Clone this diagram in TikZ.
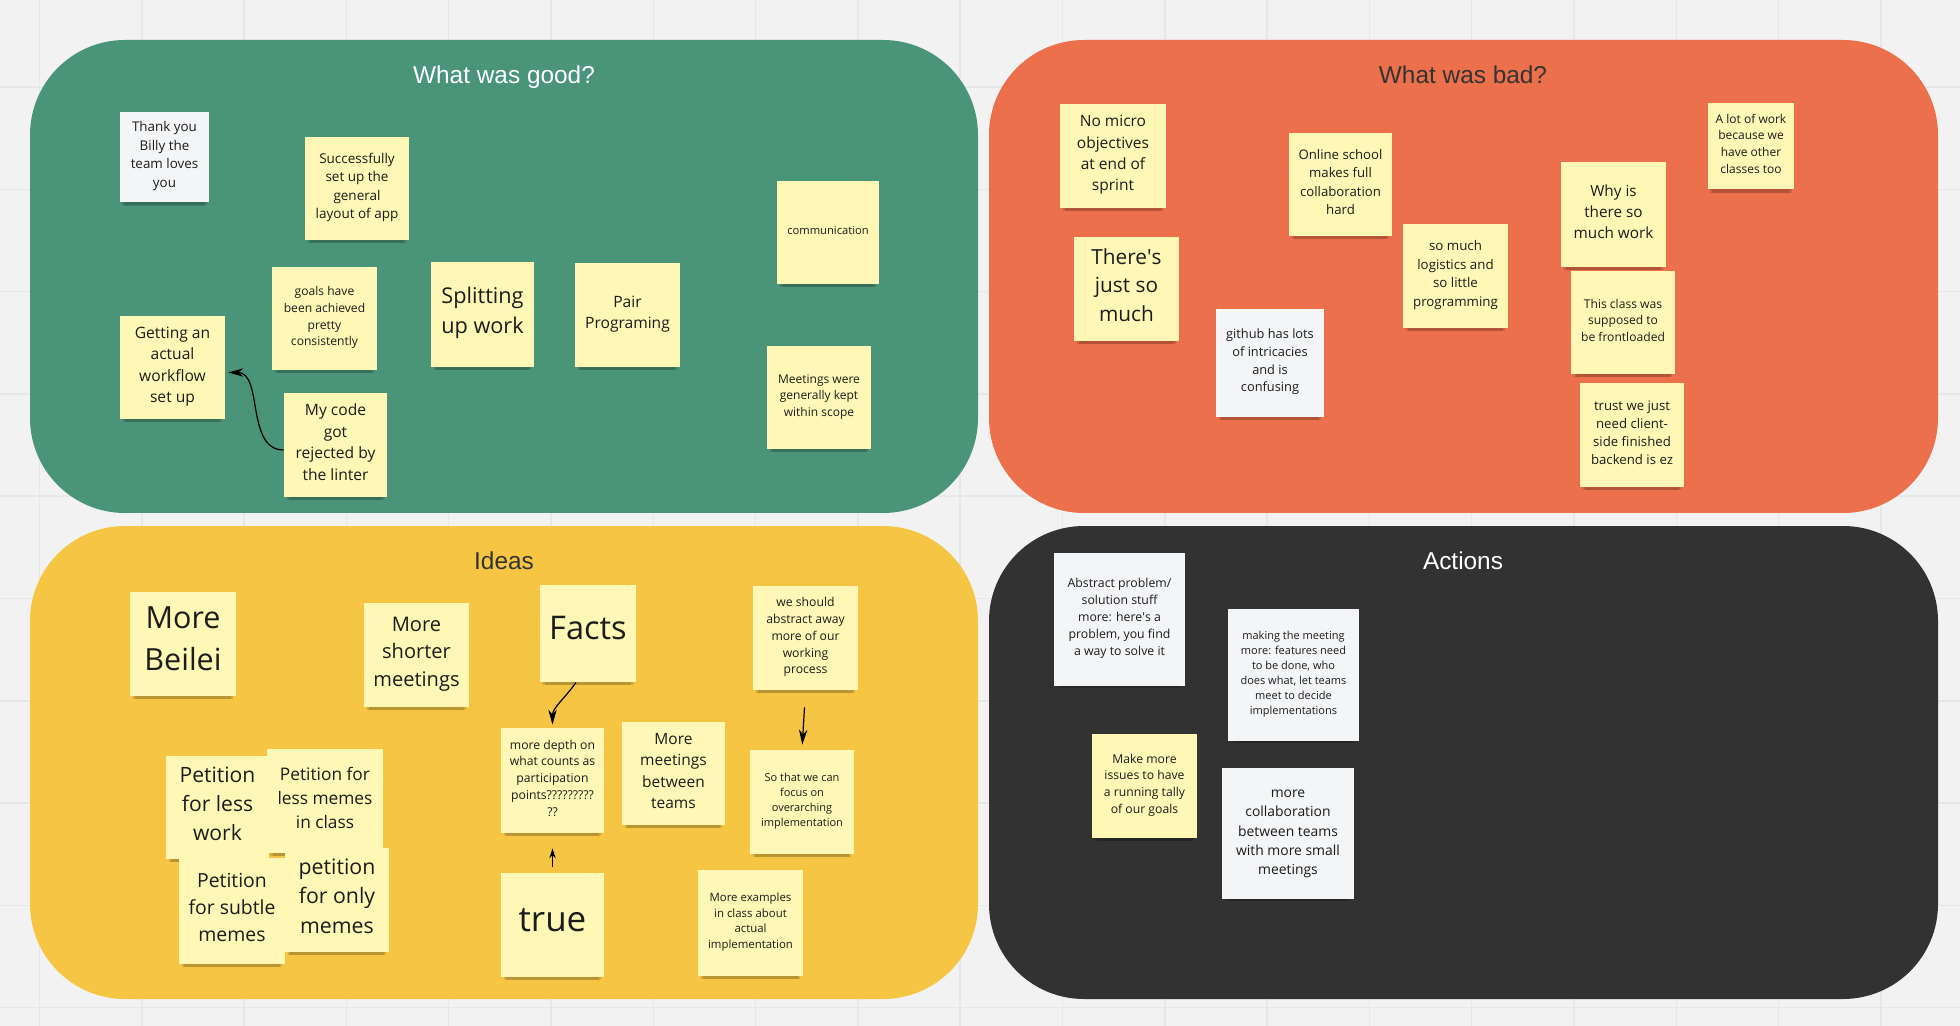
\documentclass[tikz,border=0pt]{standalone}
\usepackage{fontspec}
\setmainfont{Open Sans}
\newfontfamily\headfont{Liberation Sans}
\usetikzlibrary{shadows,arrows.meta}

\definecolor{board}{HTML}{F2F2F2}
\definecolor{gridline}{HTML}{E7E7E7}
\definecolor{goodgreen}{HTML}{4A9479}
\definecolor{badorange}{HTML}{EC704B}
\definecolor{ideayellow}{HTML}{F5C543}
\definecolor{actiondark}{HTML}{323232}
\definecolor{stickyyellow}{HTML}{FEF7B5}
\definecolor{stickywhite}{HTML}{F4F5F7}
\definecolor{ink}{HTML}{1C1C1C}
\definecolor{headink}{HTML}{333333}

% centred lines of a sticky note, set a little above the note's middle
\newcommand\stk[1]{\raisebox{0pt}[\height][\dimexpr\depth+0.18em\relax]{%
  \begin{tabular}{@{}c@{}}#1\end{tabular}}}

\tikzset{
  panel/.style={rounded corners=47.5pt},
  heading/.style={font=\headfont\fontsize{12.2pt}{14pt}\selectfont, inner sep=0pt,
    text height=0.72em, text depth=0pt},
  sz/.code={\pgfmathsetmacro\notesize{#1/2}\pgfmathsetmacro\noteskip{#1*0.69}%
    \edef\notefont{\noexpand\fontsize{\notesize pt}{\noteskip pt}\noexpand\selectfont}%
    \pgfkeysalso{font/.expand once=\notefont}},
  wh/.style 2 args={minimum width=#1*0.5pt, minimum height=#2*0.5pt},
  sticky/.style={inner sep=0pt, text=ink,
    general shadow={shadow scale=0.95, shadow yshift=-3pt, fill=black, opacity=0.13},
    general shadow={shadow scale=0.9, shadow yshift=-4.5pt, fill=black, opacity=0.13}},
  yel/.style={sticky, fill=stickyyellow},
  wht/.style={sticky, fill=stickywhite},
  link/.style={draw=black, line width=0.6pt, -{Stealth[length=7.5pt,width=4.2pt]}},
  smalllink/.style={draw=black, line width=0.6pt, -{Stealth[length=5pt,width=3.2pt]}},
}

\begin{document}
\begin{tikzpicture}[x=0.5pt, y=0.5pt]
  % board with its faint grid
  \fill[board] (0,0) rectangle (1960,-1026);
  \useasboundingbox (0,0) rectangle (1960,-1026);
  \begin{scope}
    \clip (0,0) rectangle (1960,-1026);
    \foreach \gx in {0,...,19}
      \draw[gridline, line width=0.75pt] (39.5+\gx*102.3,0) -- ++(0,-1026);
    \foreach \gy in {0,...,10}
      \draw[gridline, line width=0.75pt] (0,15.3-\gy*102.3) -- ++(1960,0);
  \end{scope}

  % the four retro panels
  \fill[panel, goodgreen]  (30,-40)  rectangle (978,-513);
  \fill[panel, badorange]  (989,-40) rectangle (1938,-513);
  \fill[panel, ideayellow] (30,-526) rectangle (978,-999);
  \fill[panel, actiondark] (989,-526) rectangle (1938,-999);

  \node[heading, text=white]   (tgood)    at (504,-76)    {What was good?};
  \node[heading, text=headink] (tbad)     at (1463,-76)   {What was bad?};
  \node[heading, text=headink] (tideas)   at (504,-562)   {Ideas};
  \node[heading, text=white]   (tactions) at (1463,-562)  {Actions};

  % what was good
  \node[wht, wh={89}{90},   sz=13.4] (thanks)   at (164.5,-157)  {\stk{Thank you\\Billy the\\team loves\\you}};
  \node[yel, wh={104}{103}, sz=13.5] (layout)   at (357,-188.5)  {\stk{Successfully\\set up the\\general\\layout of app}};
  \node[yel, wh={102}{103}, sz=11.2] (comm)     at (828,-232.5)  {\stk{communication}};
  \node[yel, wh={105}{103}, sz=12.1] (goals)    at (324.5,-318.5) {\stk{goals have\\been achieved\\pretty\\consistently}};
  \node[yel, wh={103}{105}, sz=21.7] (split)    at (482.5,-314.5) {\stk{Splitting\\up work}};
  \node[yel, wh={105}{104}, sz=15.6] (pair)     at (627.5,-315)  {\stk{Pair\\Programing}};
  \node[yel, wh={105}{103}, sz=15.6] (workflow) at (172.5,-367.5) {\stk{Getting an\\actual\\workflow\\set up}};
  \node[yel, wh={103}{104}, sz=15.6] (linter)   at (335.5,-445)  {\stk{My code\\got\\rejected by\\the linter}};
  \node[yel, wh={104}{103}, sz=12]   (scope)    at (819,-397.5)  {\stk{Meetings were\\generally kept\\within scope}};

  % what was bad
  \node[yel, wh={106}{104}, sz=15.5] (micro)     at (1113,-156)    {\stk{No micro\\objectives\\at end of\\sprint}};
  \node[yel, wh={103}{103}, sz=13.2] (online)    at (1340.5,-184.5) {\stk{Online school\\makes full\\collaboration\\hard}};
  \node[yel, wh={86}{86},   sz=12]   (classes)   at (1751,-146)    {\stk{A lot of work\\because we\\have other\\classes too}};
  \node[yel, wh={105}{105}, sz=15.3] (why)       at (1613.5,-214.5) {\stk{Why is\\there so\\much work}};
  \node[yel, wh={105}{104}, sz=20.8] (somuch)    at (1126.5,-289)  {\stk{There\textquotesingle s\\just so\\much}};
  \node[yel, wh={105}{104}, sz=13.3] (logistics) at (1455.5,-276)  {\stk{so much\\logistics and\\so little\\programming}};
  \node[wht, wh={108}{108}, sz=12.8] (github)    at (1270,-363)    {\stk{github has lots\\of intricacies\\and is\\confusing}};
  \node[yel, wh={104}{103}, sz=12.1] (frontload) at (1623,-322.5)  {\stk{This class was\\supposed to\\be frontloaded}};
  \node[yel, wh={104}{104}, sz=13.2] (backend)   at (1632,-435)    {\stk{trust we just\\need client-\\side finished\\backend is ez}};

  % ideas
  \node[yel, wh={106}{104}, sz=30.5] (beilei)    at (183,-644)    {\stk{More\\Beilei}};
  \node[yel, wh={105}{104}, sz=20.1] (shorter)   at (416.5,-655)  {\stk{More\\shorter\\meetings}};
  \node[yel, wh={96}{97},   sz=32.6] (facts)     at (588,-633.5)  {\stk{Facts}};
  \node[yel, wh={105}{104}, sz=12.2] (abstract)  at (805.5,-638)  {\stk{we should\\abstract away\\more of our\\working\\process}};
  \node[yel, wh={103}{105}, sz=12.2] (depth)     at (552.5,-780.5) {\stk{more depth on\\what counts as\\participation\\points?????????\\??}};
  \node[yel, wh={103}{103}, sz=15.5] (between)   at (673.5,-773.5) {\stk{More\\meetings\\between\\teams}};
  \node[yel, wh={104}{104}, sz=11]   (focus)     at (802,-802)    {\stk{So that we can\\focus on\\overarching\\implementation}};
  \node[yel, wh={103}{103}, sz=21.1] (lesswork)  at (217.5,-807.5) {\stk{Petition\\for less\\work}};
  \node[yel, wh={116}{104}, sz=17.3] (lessmemes) at (325,-801)    {\stk{Petition for\\less memes\\in class}};
  \node[yel, wh={106}{106}, sz=19.4] (subtle)    at (232,-911)    {\stk{Petition\\for subtle\\memes}};
  \node[yel, wh={104}{104}, sz=21.3] (onlymemes) at (337,-900)    {\stk{petition\\for only\\memes}};
  \node[yel, wh={103}{104}, sz=35]   (true)      at (552.5,-925)  {\stk{true}};
  \node[yel, wh={105}{106}, sz=11.4] (examples)  at (750.5,-923)  {\stk{More examples\\in class about\\actual\\implementation}};

  % actions
  \node[wht, wh={131}{133}, sz=12.3] (problem) at (1119.5,-619.5) {\stk{Abstract problem/\\solution stuff\\more: here\textquotesingle s a\\problem, you find\\a way to solve it}};
  \node[wht, wh={131}{132}, sz=11]   (meeting) at (1293.5,-675)   {\stk{making the meeting\\more: features need\\to be done, who\\does what, let teams\\meet to decide\\implementations}};
  \node[yel, wh={105}{104}, sz=12.2] (tally)   at (1144.5,-786)   {\stk{Make more\\issues to have\\a running tally\\of our goals}};
  \node[wht, wh={132}{131}, sz=13.9] (collab)  at (1288,-833.5)   {\stk{more\\collaboration\\between teams\\with more small\\meetings}};

  % connectors
  \draw[link, shorten >=1.5pt] ([yshift=-2.5pt]linter.west) to[out=180, in=0] ([yshift=-2.5pt]workflow.east);
  \draw[link, shorten >=1.5pt] ([xshift=-6pt]facts.south) to[out=-125, in=90] (depth.north);
  \draw[link, shorten <=8.5pt, shorten >=2.5pt] (abstract.south) -- (focus.north);
  \draw[smalllink, shorten <=3pt, shorten >=7.5pt] (true.north) -- (depth.south);
\end{tikzpicture}
\end{document}
